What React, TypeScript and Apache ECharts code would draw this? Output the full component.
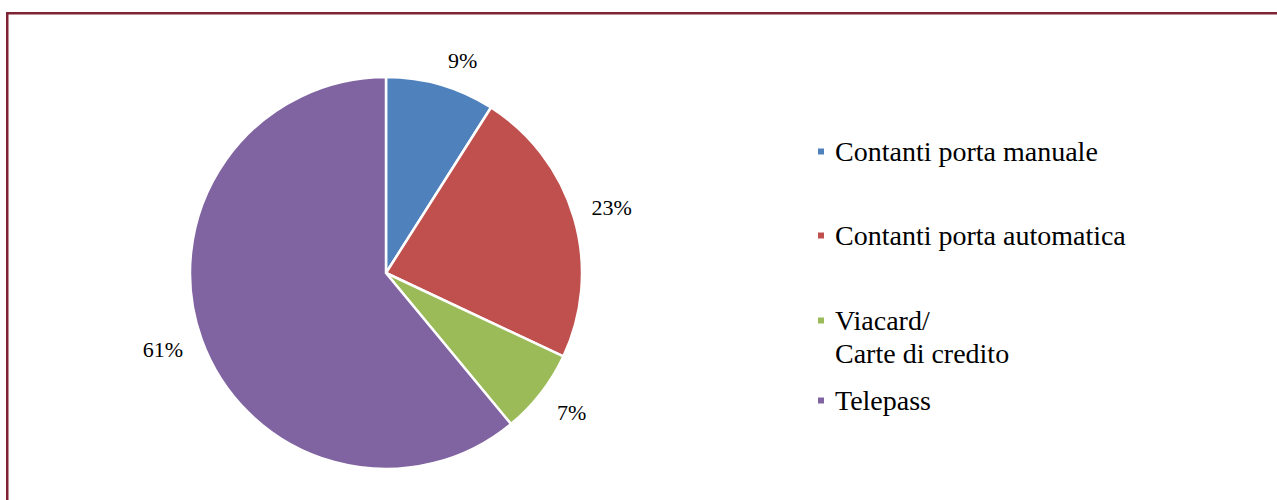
import React, { useEffect, useRef } from "react";
import * as echarts from "echarts";

const categories = [
  "Contanti porta manuale",
  "Contanti porta automatica",
  "Viacard/\nCarte di credito",
  "Telepass",
];
const shares = [9, 23, 7, 61];
const sliceColors = ["#4F81BD", "#C0504D", "#9BBB59", "#8064A2"];

const FONT = "Liberation Serif, DejaVu Serif, serif";

export default function App() {
  const ref = useRef<HTMLDivElement>(null);
  useEffect(() => {
    if (!ref.current) return;
    const chart = echarts.init(ref.current, null, { renderer: "svg" });
    const pieData = categories.map((name, i) => ({
      name,
      value: shares[i],
      itemStyle: { color: sliceColors[i] },
    }));
    const legendTops = [135, 219, 271, 384];
    const legends = categories.map((name, i) => ({
      show: true,
      left: 816,
      top: legendTops[i],
      padding: 0,
      orient: "vertical",
      selectedMode: false,
      icon: "rect",
      itemWidth: 8,
      itemHeight: 8,
      data: [{ name, itemStyle: { color: sliceColors[i] } }],
      formatter: (n: string) => (n.indexOf("\n") >= 0 ? "\n" + n : n),
      textStyle: {
        fontFamily: FONT,
        fontSize: 28,
        lineHeight: 33,
        color: "#000",
        padding: [0, 0, 0, 5],
      },
    }));
    const labelShift: Record<number, [number, number]> = {
      0: [11, 13],
      2: [0, -5],
      3: [-2, -3],
    };
    chart.setOption({
      animation: false,
      backgroundColor: "#fff",
      textStyle: { fontFamily: FONT },
      legend: legends,
      graphic: [
        {
          type: "rect",
          shape: { x: 7.25, y: 13.25, width: 1400, height: 700 },
          style: { fill: "none", stroke: "#7E2236", lineWidth: 2.5 },
          silent: true,
        },
      ],
      series: [
        {
          type: "pie",
          center: [386, 273],
          radius: [0, 196],
          startAngle: 90,
          clockwise: true,
          data: pieData,
          label: { show: false },
          labelLine: { show: false },
          itemStyle: { borderColor: "#fff", borderWidth: 2.5 },
          emphasis: { disabled: true },
          silent: true,
        },
        {
          type: "pie",
          center: [386, 273],
          radius: [212, 252],
          startAngle: 90,
          clockwise: true,
          data: categories.map((name, i) => ({ name, value: shares[i] })),
          itemStyle: { color: "rgba(0,0,0,0)" },
          label: {
            show: true,
            position: "inside",
            formatter: (p: any) => `${p.value}%`,
            fontFamily: FONT,
            fontSize: 22,
            color: "#000",
          },
          labelLayout: (p: any) => {
            const s = labelShift[p.dataIndex];
            return s ? { dx: s[0], dy: s[1] } : {};
          },
          labelLine: { show: false },
          emphasis: { disabled: true },
          silent: true,
        },
      ],
    });
    return () => chart.dispose();
  }, []);
  return (
    <div
      ref={ref}
      style={{ position: "fixed", left: 0, top: 0, width: 1277, height: 500 }}
    />
  );
}
